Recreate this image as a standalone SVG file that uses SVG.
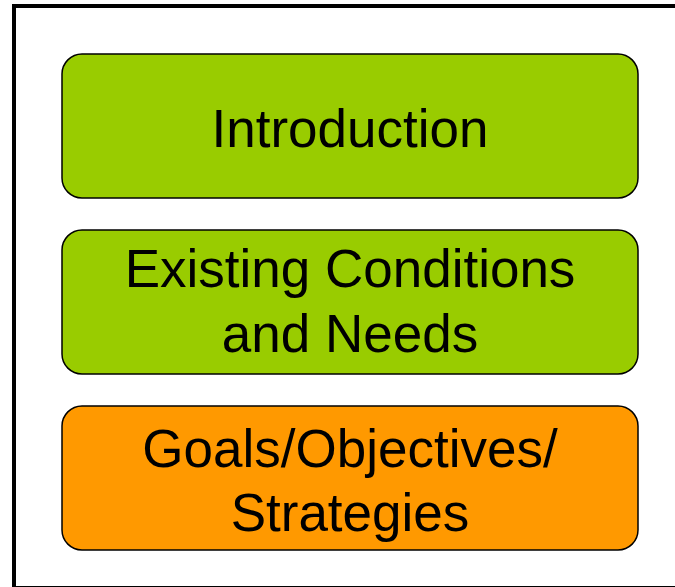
<svg xmlns="http://www.w3.org/2000/svg" width="675" height="587" viewBox="0 0 675 587">
<style>
.box{stroke:#000;stroke-width:1.5}
.g{fill:#99CC00}
.o{fill:#FF9900}
text{font-family:"Liberation Sans",Arial,sans-serif;font-size:53px;fill:#000;text-anchor:middle}
</style>
<rect x="14" y="6" width="700" height="582" fill="#fff" stroke="#000" stroke-width="4"/>
<g id="introduction">
<rect class="box g" x="62" y="54" width="576" height="144" rx="20"/>
<text x="350" y="147">Introduction</text>
</g>
<g id="existing-conditions">
<rect class="box g" x="62" y="230" width="576" height="144" rx="20"/>
<text x="350" y="287">Existing Conditions</text>
<text x="350" y="352">and Needs</text>
</g>
<g id="goals">
<rect class="box o" x="62" y="406" width="576" height="144" rx="20"/>
<text x="350" y="467">Goals/Objectives/</text>
<text x="350" y="531">Strategies</text>
</g>
<g id="connectors"></g>
</svg>
